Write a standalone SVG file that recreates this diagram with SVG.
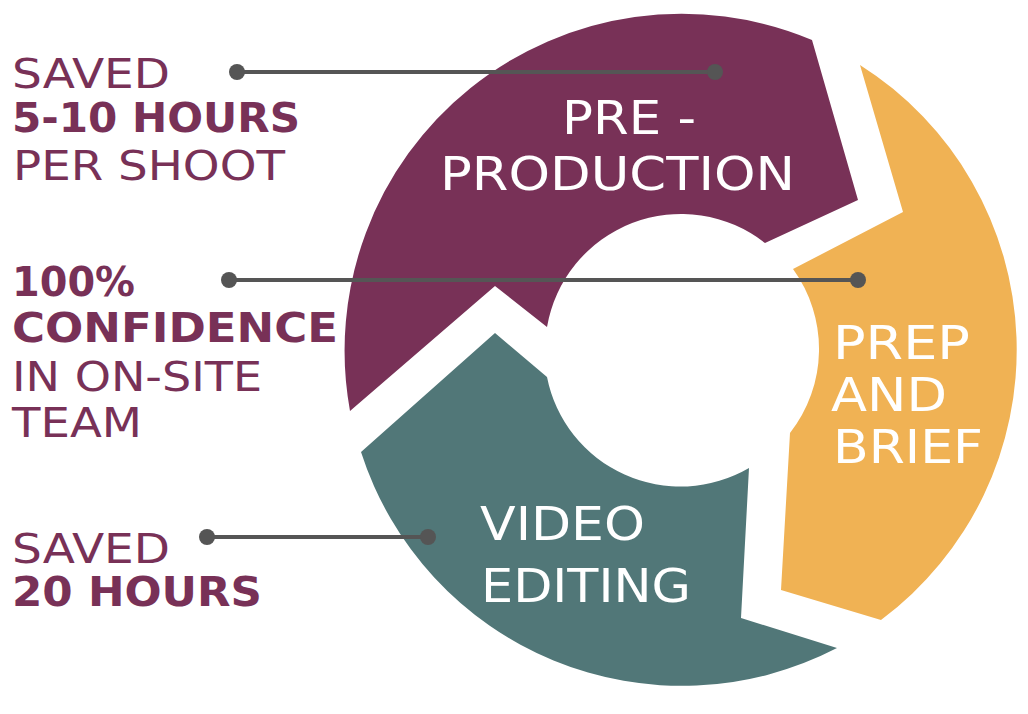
<svg xmlns="http://www.w3.org/2000/svg" width="1028" height="714" viewBox="0 0 1028 714">
<style>
.seg-t{font-family:"DejaVu Sans","Liberation Sans",sans-serif;font-size:47px;fill:#ffffff}
.lab{font-family:"DejaVu Sans","Liberation Sans",sans-serif;font-size:40px;fill:#783157}
.b{font-weight:bold}
.ln{stroke:#555555;stroke-width:4;fill:none}
.dot{fill:#555555}
</style>
<rect width="1028" height="714" fill="#ffffff"/>
<g id="pre-production">
<path d="M350,411 A337,337 0 0 1 812,40 L858,200 L765,243 A136,136 0 0 0 547,327 L495,286 Z" fill="#783157"/>
<text class="seg-t" x="562" y="134" textLength="134" lengthAdjust="spacingAndGlyphs">PRE -</text>
<text class="seg-t" x="440" y="190" textLength="355" lengthAdjust="spacingAndGlyphs">PRODUCTION</text>
</g>
<g id="prep-and-brief">
<path d="M860,65 L903,212 L793,269 A136,136 0 0 1 790,433 L781,590 L881,620 A337,337 0 0 0 860,65 Z" fill="#F0B254"/>
<text class="seg-t" x="833" y="359" textLength="137" lengthAdjust="spacingAndGlyphs">PREP</text>
<text class="seg-t" x="831" y="411" textLength="116" lengthAdjust="spacingAndGlyphs">AND</text>
<text class="seg-t" x="833" y="463" textLength="150" lengthAdjust="spacingAndGlyphs">BRIEF</text>
</g>
<g id="video-editing">
<path d="M749,468 L741,618 L837,648 A337,337 0 0 1 361,452 L495,333 L547,377 A136,136 0 0 0 749,468 Z" fill="#517778"/>
<text class="seg-t" x="480" y="540" textLength="165" lengthAdjust="spacingAndGlyphs">VIDEO</text>
<text class="seg-t" x="481" y="602" textLength="210" lengthAdjust="spacingAndGlyphs">EDITING</text>
</g>
<g id="label-hours">
<text class="lab" x="12" y="88" textLength="158" lengthAdjust="spacingAndGlyphs">SAVED</text>
<text class="lab b" x="12" y="132" textLength="288" lengthAdjust="spacingAndGlyphs">5-10 HOURS</text>
<text class="lab" x="13" y="180" textLength="272" lengthAdjust="spacingAndGlyphs">PER SHOOT</text>
</g>
<g id="label-confidence">
<text class="lab b" x="12" y="296" textLength="123" lengthAdjust="spacingAndGlyphs">100%</text>
<text class="lab b" x="12" y="342" textLength="326" lengthAdjust="spacingAndGlyphs">CONFIDENCE</text>
<text class="lab" x="12" y="391" textLength="250" lengthAdjust="spacingAndGlyphs">IN ON-SITE</text>
<text class="lab" x="12" y="437" textLength="130" lengthAdjust="spacingAndGlyphs">TEAM</text>
</g>
<g id="label-saved20">
<text class="lab" x="12" y="563" textLength="158" lengthAdjust="spacingAndGlyphs">SAVED</text>
<text class="lab b" x="12" y="606" textLength="250" lengthAdjust="spacingAndGlyphs">20 HOURS</text>
</g>
<g id="connectors">
<line class="ln" x1="237" y1="72" x2="715" y2="72"/>
<circle class="dot" cx="237" cy="72" r="8"/>
<circle class="dot" cx="715" cy="72" r="8"/>
<line class="ln" x1="229" y1="280" x2="858" y2="280"/>
<circle class="dot" cx="229" cy="280" r="8"/>
<circle class="dot" cx="858" cy="280" r="8"/>
<line class="ln" x1="207" y1="537" x2="428" y2="537"/>
<circle class="dot" cx="207" cy="537" r="8"/>
<circle class="dot" cx="428" cy="537" r="8"/>
</g>
</svg>
